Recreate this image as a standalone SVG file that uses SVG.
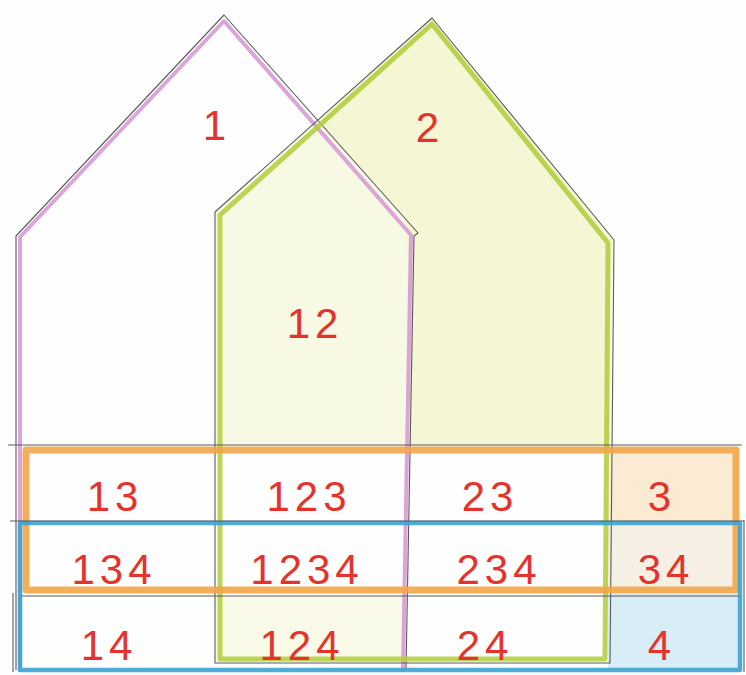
<svg xmlns="http://www.w3.org/2000/svg" width="746" height="675" viewBox="0 0 746 675">
  <style>
    .pencil { fill: none; stroke: #5a5a5a; stroke-width: 1.1; stroke-linejoin: round; }
    .band { fill: none; stroke-linejoin: round; stroke-linecap: round; opacity: 0.9; }
    .purple { stroke: #d89ad5; stroke-width: 4; }
    .green { stroke: #b3cf42; stroke-width: 5; }
    .orange { stroke: #f2a54a; stroke-width: 7; }
    .blue { stroke: #3ba3d2; stroke-width: 4.5; }
    .lbl { font-family: "Liberation Sans", "DejaVu Sans", sans-serif; font-size: 42px; fill: #e5332c; text-anchor: middle; letter-spacing: 5px; }
  </style>
  <rect x="0" y="0" width="746" height="675" fill="#fefefe"/>

  <g id="shading">
    <polygon points="216,446 216,212 432,18 613,240 610,446" fill="#f4f6d4"/>
    <polygon points="216,446 216,212 318,120 406,218 410,446" fill="#f8f9e4"/>
    <rect x="608" y="450" width="130" height="73" fill="#fbebd3"/>
    <rect x="608" y="523" width="130" height="67" fill="#f6efe4"/>
    <rect x="608" y="594" width="134" height="76" fill="#d9edf6"/>
    <rect x="216" y="596" width="190" height="66" fill="#fafae8"/>
  </g>

  <g id="set1">
    <polyline class="band purple" points="20,670 20,237 224,21 411,235 403,670"/>
    <polyline class="pencil" points="16,670 16,236 224,15 418,233 414,236 406,670"/>
  </g>

  <g id="set2">
    <polygon class="band green" points="220,659 220,215 432,24 608,243 605,659"/>
    <polygon class="pencil" points="215,663 215,212 432,18 614,240 610,663"/>
  </g>

  <g id="set3">
    <rect class="band orange" x="26" y="450" width="710" height="140"/>
    <line class="pencil" x1="8" y1="445" x2="742" y2="445"/>
    <line class="pencil" x1="20" y1="596" x2="742" y2="596"/>
  </g>

  <g id="set4">
    <rect class="band blue" x="20" y="523" width="720" height="147"/>
    <line class="pencil" x1="10" y1="521" x2="744" y2="521"/>
    <line class="pencil" x1="13" y1="593" x2="13" y2="672"/>
    <line class="pencil" x1="744" y1="520" x2="744" y2="672"/>
  </g>

  <g id="connectors"></g>

  <g id="labels">
    <text class="lbl" x="217" y="140">1</text>
    <text class="lbl" x="430" y="142">2</text>
    <text class="lbl" x="315" y="338">12</text>

    <text class="lbl" x="115" y="511">13</text>
    <text class="lbl" x="309" y="511">123</text>
    <text class="lbl" x="490" y="511">23</text>
    <text class="lbl" x="662" y="511">3</text>

    <text class="lbl" x="114" y="584">134</text>
    <text class="lbl" x="307" y="584">1234</text>
    <text class="lbl" x="499" y="584">234</text>
    <text class="lbl" x="666" y="584">34</text>

    <text class="lbl" x="109" y="660">14</text>
    <text class="lbl" x="302" y="660">124</text>
    <text class="lbl" x="485" y="660">24</text>
    <text class="lbl" x="662" y="660">4</text>
  </g>
</svg>
